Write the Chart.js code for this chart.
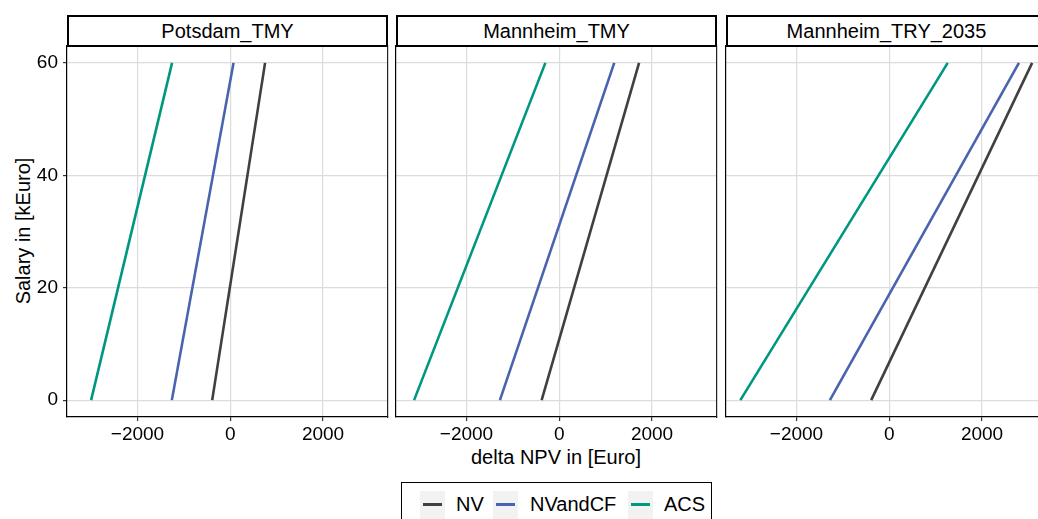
<!DOCTYPE html>
<html>
<head>
<meta charset="utf-8">
<script src="https://cdn.jsdelivr.net/npm/chart.js@4/dist/chart.umd.min.js"></script>
<style>
  html, body { margin: 0; padding: 0; background: #fff; }
  body { width: 1038px; height: 519px; overflow: hidden; position: relative;
         font-family: "Liberation Sans", Arial, sans-serif; color: #000; }
  canvas { position: absolute; }
  .strip { position: absolute; top: 15px; height: 32px; box-sizing: border-box;
           border: 2px solid #000; background: #fff; font-size: 20px;
           display: flex; align-items: center; justify-content: center; }
  .title { position: absolute; font-size: 20px; white-space: nowrap; }
  #legend { position: absolute; left: 401px; top: 482px; width: 311px; height: 60px;
            box-sizing: border-box; border: 1px solid #000; }
  .key { position: absolute; top: 8px; width: 25px; height: 28px; background: #f2f2f2; }
  .key span { position: absolute; left: 3px; right: 3px; top: 12px; height: 2.5px; }
  .lab { position: absolute; top: 9px; font-size: 20px; line-height: 24px; }
</style>
</head>
<body>

<div class="title" style="left:23px; top:231px; transform: translate(-50%,-50%) rotate(-90deg);">Salary in [kEuro]</div>
<div class="title" style="left:556px; top:457px; transform: translate(-50%,-50%);">delta NPV in [Euro]</div>

<div id="legend"></div>

<script>
// Data
const panelNames = ['Potsdam_TMY', 'Mannheim_TMY', 'Mannheim_TRY_2035'];
const seriesNames = ['NV', 'NVandCF', 'ACS'];
const seriesColors = ['#404040', '#4a63ae', '#009780'];
const salaryKEuro = [0, 60];
// one pair (salary 0, salary 60) per panel
const npvNV = [[-390, 750], [-380, 1720], [-390, 3080]];
const npvNVandCF = [[-1260, 70], [-1280, 1185], [-1280, 2795]];
const npvACS = [[-3000, -1255], [-3130, -300], [-3210, 1260]];
const xTicks = [-2000, 0, 2000];
const yTicks = [0, 20, 40, 60];

const seriesValues = [npvNV, npvNVandCF, npvACS];

// Layout of the three panels (plot area left edge in page px)
const panelLeft = [67, 396, 726];
const panelWidth = 321;
const plotTop = 46;
const plotBottom = 417;

const fontFamily = '"Liberation Sans", Arial, sans-serif';

function fmtTick(v) {
  return v < 0 ? '\u2212' + Math.abs(v) : String(v);
}

function makePanel(idx) {
  const first = idx === 0;
  const yAxisWidth = first ? 67 : 0;
  const padLeft = first ? 0 : 4;
  const canvasLeft = panelLeft[idx] - yAxisWidth - padLeft;
  const canvasTop = 40;
  const canvasW = yAxisWidth + padLeft + panelWidth + 4;
  const canvasH = 440;

  // strip header
  const strip = document.createElement('div');
  strip.className = 'strip';
  strip.style.left = panelLeft[idx] + 'px';
  strip.style.width = panelWidth + 'px';
  strip.textContent = panelNames[idx];
  document.body.appendChild(strip);

  const canvas = document.createElement('canvas');
  canvas.width = canvasW;
  canvas.height = canvasH;
  canvas.style.left = canvasLeft + 'px';
  canvas.style.top = canvasTop + 'px';
  document.body.insertBefore(canvas, strip);

  const datasets = seriesNames.map((name, s) => ({
    label: name,
    data: salaryKEuro.map((sal, i) => ({ x: seriesValues[s][idx][i], y: sal })),
    borderColor: seriesColors[s],
    backgroundColor: seriesColors[s],
    borderWidth: 2.6,
    showLine: true,
    pointRadius: 0,
    fill: false
  }));

  new Chart(canvas.getContext('2d'), {
    type: 'scatter',
    data: { datasets: datasets },
    options: {
      responsive: false,
      animation: false,
      devicePixelRatio: 1,
      layout: {
        padding: {
          left: padLeft,
          right: 4,
          top: plotTop - canvasTop,
          bottom: canvasH - 40 - (plotBottom - canvasTop)
        }
      },
      plugins: {
        legend: { display: false },
        tooltip: { enabled: false }
      },
      scales: {
        x: {
          type: 'linear',
          min: -3520,
          max: 3400,
          afterFit: (scale) => {
            scale.height = 40;
            scale.paddingLeft = 0;
            scale.paddingRight = 0;
          },
          afterBuildTicks: (scale) => { scale.ticks = xTicks.map(v => ({ value: v })); },
          grid: { color: '#dcdcdc', lineWidth: 1.2, tickColor: '#333', tickLength: 4 },
          border: { display: true, color: '#000', width: 1.2 },
          ticks: {
            color: '#000',
            padding: 2,
            maxRotation: 0,
            font: { family: fontFamily, size: 19 },
            callback: (v) => fmtTick(v)
          }
        },
        y: {
          type: 'linear',
          min: -3,
          max: 63,
          afterFit: (scale) => {
            scale.width = yAxisWidth;
            scale.paddingTop = 0;
            scale.paddingBottom = 0;
          },
          afterBuildTicks: (scale) => { scale.ticks = yTicks.map(v => ({ value: v })); },
          grid: {
            color: '#dcdcdc',
            lineWidth: 1.2,
            tickColor: '#333',
            tickLength: first ? 4 : 0,
            drawTicks: first
          },
          border: { display: true, color: '#000', width: 1.2 },
          ticks: {
            display: first,
            color: '#000',
            padding: 5,
            font: { family: fontFamily, size: 19 },
            callback: (v) => fmtTick(v)
          }
        },
        yRight: {
          type: 'linear',
          position: 'right',
          min: -3,
          max: 63,
          afterFit: (scale) => {
            scale.width = 0;
            scale.paddingTop = 0;
            scale.paddingBottom = 0;
          },
          grid: { drawOnChartArea: false, drawTicks: false },
          border: { display: true, color: '#222', width: 1.2 },
          ticks: { display: false }
        }
      }
    }
  });
}

panelNames.forEach((name, i) => makePanel(i));

// Legend
const legend = document.getElementById('legend');
const keyLefts = [18, 91, 226];
const labLefts = [54, 128, 262];
seriesNames.forEach((name, s) => {
  const key = document.createElement('div');
  key.className = 'key';
  key.style.left = keyLefts[s] + 'px';
  const line = document.createElement('span');
  line.style.background = seriesColors[s];
  key.appendChild(line);
  legend.appendChild(key);

  const lab = document.createElement('div');
  lab.className = 'lab';
  lab.style.left = labLefts[s] + 'px';
  lab.textContent = name;
  legend.appendChild(lab);
});
</script>
</body>
</html>
